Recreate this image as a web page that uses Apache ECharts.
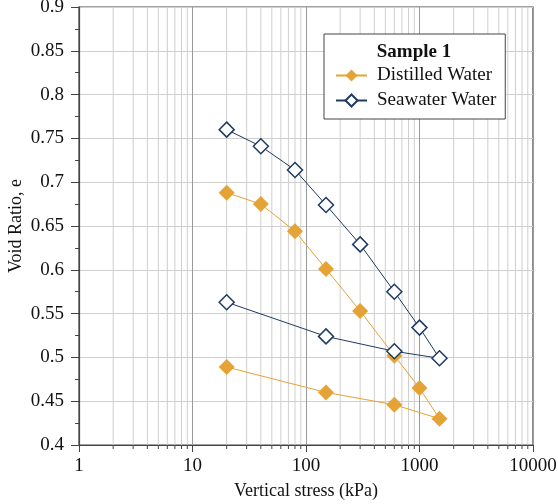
<!DOCTYPE html>
<html>
<head>
<meta charset="utf-8">
<script src="https://cdn.jsdelivr.net/npm/echarts@6/dist/echarts.min.js"></script>
<style>html,body{margin:0;padding:0;background:#fff}#c{width:558px;height:504px}</style>
</head>
<body>
<div id="c"></div>
<script>
const stress = [20, 40, 80, 150, 300, 600, 1000, 1500, 600, 150, 20];
const voidDistilled = [0.688, 0.675, 0.644, 0.601, 0.553, 0.502, 0.465, 0.430, 0.446, 0.460, 0.489];
const voidSeawater = [0.760, 0.741, 0.714, 0.674, 0.629, 0.575, 0.534, 0.499, 0.507, 0.524, 0.563];
const seriesNames = ['Distilled Water', 'Seawater Water'];
const legendTitle = 'Sample 1';
const xTicks = [1, 10, 100, 1000, 10000];
const xTickLabels = ['1', '10', '100', '1000', '10000'];
const yTicks = [0.4, 0.45, 0.5, 0.55, 0.6, 0.65, 0.7, 0.75, 0.8, 0.85, 0.9];
const yTickLabels = ['0.4', '0.45', '0.5', '0.55', '0.6', '0.65', '0.7', '0.75', '0.8', '0.85', '0.9'];
const minorStress = [2, 3, 4, 5, 6, 7, 8, 9,
  20, 30, 40, 50, 60, 70, 80, 90,
  200, 300, 400, 500, 600, 700, 800, 900,
  2000, 3000, 4000, 5000, 6000, 7000, 8000, 9000];

const FONT = 'Liberation Serif';
const LABEL_FONT = '19px "Liberation Serif"';
const orange = '#E5A235';
const navy = '#1F3A60';
const X_MIN = 1, X_MAX = 10000, Y_MIN = 0.4, Y_MAX = 0.9;

function pairs(xs, ys) { return xs.map((x, i) => [x, ys[i]]); }

const chart = echarts.init(document.getElementById('c'), null, {renderer: 'canvas'});
chart.setOption({
  backgroundColor: '#fff',
  animation: false,
  textStyle: {fontFamily: FONT},
  grid: {left: 79, right: 25, top: 7, bottom: 59, show: true, borderColor: '#444', borderWidth: 1.2,
         containLabel: false, outerBoundsMode: 'none'},
  xAxis: {
    type: 'log', logBase: 10, min: X_MIN, max: X_MAX,
    name: 'Vertical stress (kPa)', nameLocation: 'middle', nameGap: 37, nameMoveOverlap: false,
    nameTextStyle: {fontFamily: FONT, fontSize: 18, color: '#111'},
    axisLine: {show: true, lineStyle: {color: '#444', width: 1.2}},
    axisTick: {show: true, length: 7, lineStyle: {color: '#444'}},
    minorTick: {show: false},
    axisLabel: {show: false},
    splitLine: {show: true, lineStyle: {color: '#999', width: 1}},
    minorSplitLine: {show: false}
  },
  yAxis: {
    type: 'value', min: Y_MIN, max: Y_MAX, interval: 0.05,
    name: 'Void Ratio, e', nameLocation: 'middle', nameGap: 54, nameMoveOverlap: false,
    nameTextStyle: {fontFamily: FONT, fontSize: 18, color: '#111'},
    axisLine: {show: true, lineStyle: {color: '#444', width: 1.2}},
    axisTick: {show: true, length: 8, lineStyle: {color: '#444'}},
    minorTick: {show: true, splitNumber: 2, length: 4, lineStyle: {color: '#444'}},
    axisLabel: {show: false},
    splitLine: {show: true, lineStyle: {color: '#cfcfcf', width: 1}}
  },
  legend: {
    orient: 'vertical', left: 324, top: 34,
    padding: [32, 9, 9, 11], itemGap: 6, itemWidth: 31, itemHeight: 15,
    borderColor: '#444', borderWidth: 1, backgroundColor: '#fff',
    textStyle: {fontFamily: FONT, fontSize: 19, color: '#111', padding: [0, 0, 0, 5]},
    data: seriesNames
  },
  series: [
    {
      name: 'minor', type: 'custom', silent: true, clip: false, z: 1,
      data: minorStress.map(x => [x, Y_MAX]),
      encode: {x: 0, y: 1},
      renderItem: function (params, api) {
        const x = api.value(0);
        const b = api.coord([x, Y_MIN]);
        const t = api.coord([x, Y_MAX]);
        return {
          type: 'group',
          children: [
            {type: 'line', shape: {x1: b[0], y1: b[1], x2: t[0], y2: t[1]}, style: {stroke: '#cfcfcf', lineWidth: 1}},
            {type: 'line', shape: {x1: b[0], y1: b[1], x2: b[0], y2: b[1] + 4}, style: {stroke: '#444', lineWidth: 1}}
          ]
        };
      }
    },
    {
      name: seriesNames[0], type: 'line', data: pairs(stress, voidDistilled),
      symbol: 'diamond', symbolSize: 16,
      lineStyle: {color: orange, width: 1},
      itemStyle: {color: orange, borderColor: orange, borderWidth: 0},
      z: 3
    },
    {
      name: seriesNames[1], type: 'line', data: pairs(stress, voidSeawater),
      symbol: 'diamond', symbolSize: 15,
      lineStyle: {color: navy, width: 1},
      itemStyle: {color: '#fff', borderColor: navy, borderWidth: 1.5},
      z: 4
    }
  ]
});

// Tick labels placed through the chart's own axis scales (convertToPixel).
const labelEls = [];
xTicks.forEach((x, i) => {
  const p = chart.convertToPixel({gridIndex: 0}, [x, Y_MIN]);
  labelEls.push({type: 'text', x: p[0], y: p[1] + 12, z: 100,
    style: {text: xTickLabels[i], font: LABEL_FONT, fill: '#111', textAlign: 'center', textVerticalAlign: 'top'}});
});
yTicks.forEach((y, i) => {
  const p = chart.convertToPixel({gridIndex: 0}, [X_MIN, y]);
  labelEls.push({type: 'text', x: p[0] - 15, y: p[1], z: 100,
    style: {text: yTickLabels[i], font: LABEL_FONT, fill: '#111', textAlign: 'right', textVerticalAlign: 'middle'}});
});
labelEls.push({type: 'text', x: 414, y: 52, z: 100,
  style: {text: legendTitle, font: 'bold 19px "Liberation Serif"', fill: '#111', textAlign: 'center', textVerticalAlign: 'middle'}});
chart.setOption({graphic: labelEls});
</script>
</body>
</html>
